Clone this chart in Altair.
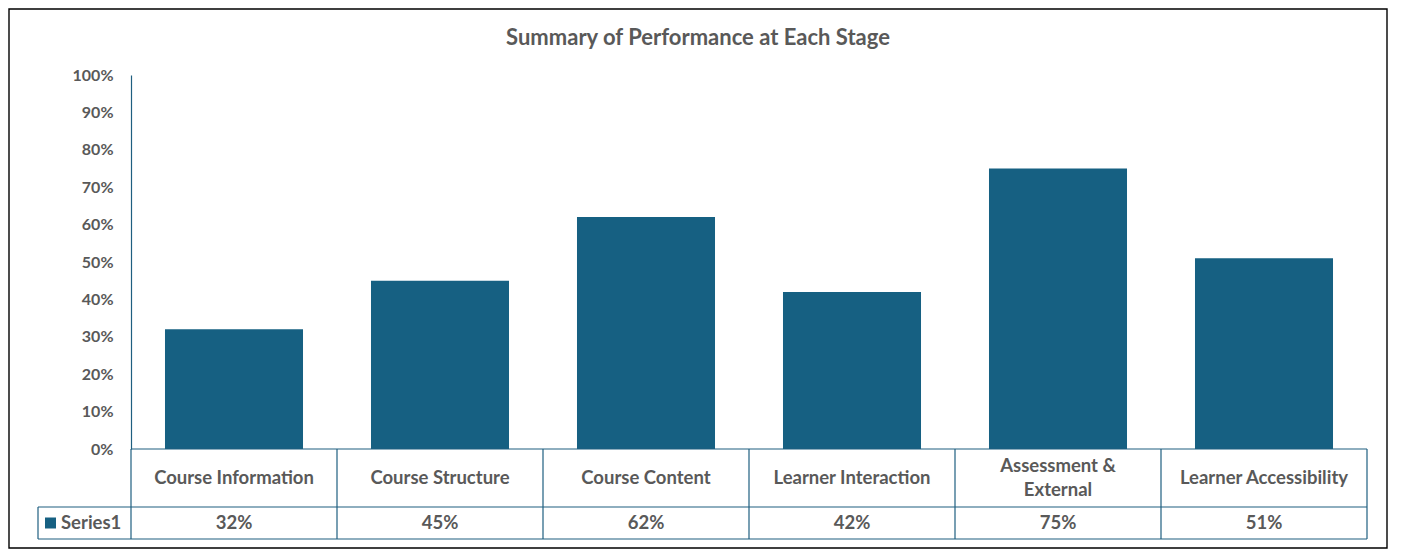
import altair as alt
import pandas as pd

# ---- data ----
categories = ["Course Information", "Course Structure", "Course Content",
              "Learner Interaction", "Assessment & External", "Learner Accessibility"]
cat_labels = ["Course Information", "Course Structure", "Course Content",
              "Learner Interaction", "Assessment &\nExternal", "Learner Accessibility"]
values = [0.32, 0.45, 0.62, 0.42, 0.75, 0.51]
series_name = "Series1"
y_ticks = [0.0, 0.1, 0.2, 0.3, 0.4, 0.5, 0.6, 0.7, 0.8, 0.9, 1.0]
chart_title = "Summary of Performance at Each Stage"

df = pd.DataFrame({"cat": categories, "label": cat_labels, "value": values})
df["nlines"] = [len(s.split("\n")) for s in cat_labels]
one = pd.DataFrame({"name": [series_name], "title": [chart_title]})

# ---- style ----
W, H = 1236, 374
BAR = "#166082"
LINE = "#1F5F80"
TXT = "#595959"
FONT = "Lato"
FS_AX = 16
FS_TB = 18.5
step = W / len(categories)

x_enc = alt.X("cat:N", sort=categories,
              scale=alt.Scale(paddingInner=0.33, paddingOuter=0.165), axis=None)

base = alt.Chart(df)

bars = base.mark_bar(color=BAR).encode(
    x=x_enc,
    y=alt.Y("value:Q", scale=alt.Scale(domain=[0, 1]),
            axis=alt.Axis(values=y_ticks, format=".0%", grid=False, ticks=False,
                          domainColor=LINE, domainWidth=1.2, labelPadding=18,
                          labelFont=FONT, labelFontSize=FS_AX, labelFontWeight="bold",
                          labelColor=TXT, title=None)),
)

# vertical separators of the data table (left edge of every category cell)
seps = base.mark_rule(color=LINE, strokeWidth=1.2, xOffset=-step / 2).encode(
    x=x_enc, y=alt.value(H), y2=alt.value(H + 90))

right_edge = alt.Chart(one).mark_rule(color=LINE, strokeWidth=1.2).encode(
    x=alt.value(W), y=alt.value(H), y2=alt.value(H + 90))
left_edge = alt.Chart(one).mark_rule(color=LINE, strokeWidth=1.2).encode(
    x=alt.value(-93), y=alt.value(H + 58), y2=alt.value(H + 90))

h0 = alt.Chart(one).mark_rule(color=LINE, strokeWidth=1.2).encode(
    x=alt.value(0), x2=alt.value(W), y=alt.value(H))
h1 = alt.Chart(one).mark_rule(color=LINE, strokeWidth=1.2).encode(
    x=alt.value(-93), x2=alt.value(W), y=alt.value(H + 58))
h2 = alt.Chart(one).mark_rule(color=LINE, strokeWidth=1.2).encode(
    x=alt.value(-93), x2=alt.value(W), y=alt.value(H + 90))

txt_props = dict(font=FONT, fontSize=FS_TB, fontWeight="bold", color=TXT,
                 baseline="middle", lineBreak="\n", lineHeight=24)

cat_text1 = base.transform_filter("datum.nlines == 1").mark_text(**txt_props).encode(
    x=x_enc, y=alt.value(H + 29), text="label:N")
cat_text2 = base.transform_filter("datum.nlines == 2").mark_text(**txt_props).encode(
    x=x_enc, y=alt.value(H + 29 - 12), text="label:N")

val_text = base.mark_text(font=FONT, fontSize=FS_TB, fontWeight="bold", color=TXT,
                          baseline="middle").encode(
    x=x_enc, y=alt.value(H + 74), text=alt.Text("value:Q", format=".0%"))

legend_sq = alt.Chart(one).mark_point(shape="square", filled=True, color=BAR,
                                      size=121, opacity=1).encode(
    x=alt.value(-80.5), y=alt.value(H + 74))
legend_txt = alt.Chart(one).mark_text(font=FONT, fontSize=FS_TB, fontWeight="bold",
                                      color=TXT, align="left", baseline="middle").encode(
    x=alt.value(-70), y=alt.value(H + 74), text="name:N")

title_txt = alt.Chart(one).mark_text(font=FONT, fontSize=22, fontWeight="bold",
                                     color=TXT, align="center", baseline="middle").encode(
    x=alt.value(W / 2 - 51), y=alt.value(-37), text="title:N")

border = alt.Chart(one).mark_rect(fill="white", fillOpacity=0, stroke="#000000",
                                  strokeWidth=1.4).encode(
    x=alt.value(-122), x2=alt.value(1256), y=alt.value(-66), y2=alt.value(473))

chart = alt.layer(
    border, bars, h0, h1, h2, seps, right_edge, left_edge,
    cat_text1, cat_text2, val_text, legend_sq, legend_txt, title_txt
).properties(
    width=W, height=H,
    background="white",
    autosize=alt.AutoSizeParams(type="none"),
    padding={"left": 123, "top": 67, "right": 22, "bottom": 100},
).configure_view(stroke=None)

chart.save("out.html", embed_options={"renderer": "svg", "actions": False})
